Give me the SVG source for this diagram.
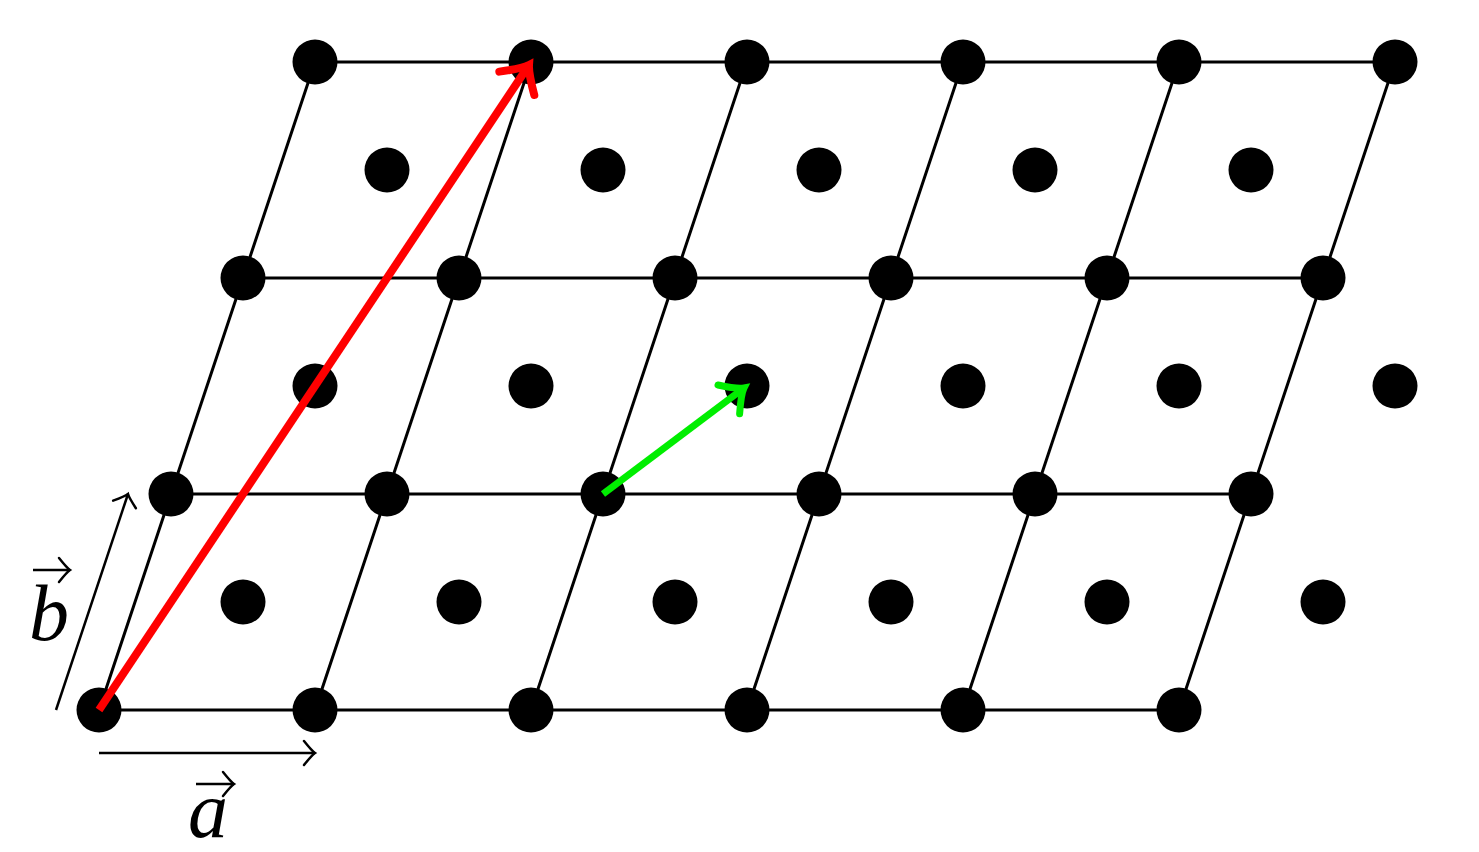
<svg xmlns="http://www.w3.org/2000/svg" width="1479" height="852" viewBox="0 0 1479 852">
<style>
.ln{stroke:#000;stroke-width:3;fill:none}
.dot{fill:#000}
.lbl{font-family:"Liberation Serif","DejaVu Serif",serif;font-style:italic;font-size:80px;fill:#000}
</style>
<defs>
<marker id="hk" markerUnits="userSpaceOnUse" orient="auto" refX="0" refY="0" markerWidth="40" markerHeight="40" viewBox="-20 -20 40 40" overflow="visible">
<path d="M -11,-12 Q -3,-2 0,0 Q -3,2 -11,12" stroke="#000" stroke-width="2.5" fill="none" stroke-linecap="round"/>
</marker>
<marker id="hr" markerUnits="userSpaceOnUse" orient="auto" refX="0" refY="0" markerWidth="80" markerHeight="80" viewBox="-40 -40 80 80" overflow="visible">
<path d="M -22,-21 Q -7,-4 0,0 Q -7,4 -22,21" stroke="#ff0000" stroke-width="8" fill="none" stroke-linecap="round"/>
</marker>
<marker id="hg" markerUnits="userSpaceOnUse" orient="auto" refX="0" refY="0" markerWidth="80" markerHeight="80" viewBox="-40 -40 80 80" overflow="visible">
<path d="M -19,-18 Q -6,-3 0,0 Q -6,3 -19,18" stroke="#00ee00" stroke-width="7" fill="none" stroke-linecap="round"/>
</marker>
</defs>
<rect width="1479" height="852" fill="#fff"/>
<g id="connectors">
<line class="ln" x1="99" y1="710" x2="1179" y2="710"/>
<line class="ln" x1="171" y1="494" x2="1251" y2="494"/>
<line class="ln" x1="243" y1="278" x2="1323" y2="278"/>
<line class="ln" x1="315" y1="62" x2="1395" y2="62"/>
<line class="ln" x1="99" y1="710" x2="315" y2="62"/>
<line class="ln" x1="315" y1="710" x2="531" y2="62"/>
<line class="ln" x1="531" y1="710" x2="747" y2="62"/>
<line class="ln" x1="747" y1="710" x2="963" y2="62"/>
<line class="ln" x1="963" y1="710" x2="1179" y2="62"/>
<line class="ln" x1="1179" y1="710" x2="1395" y2="62"/>
</g>
<g id="lattice-points">
<circle class="dot" cx="99" cy="710" r="22.5"/><circle class="dot" cx="315" cy="710" r="22.5"/><circle class="dot" cx="531" cy="710" r="22.5"/><circle class="dot" cx="747" cy="710" r="22.5"/><circle class="dot" cx="963" cy="710" r="22.5"/><circle class="dot" cx="1179" cy="710" r="22.5"/>
<circle class="dot" cx="171" cy="494" r="22.5"/><circle class="dot" cx="387" cy="494" r="22.5"/><circle class="dot" cx="603" cy="494" r="22.5"/><circle class="dot" cx="819" cy="494" r="22.5"/><circle class="dot" cx="1035" cy="494" r="22.5"/><circle class="dot" cx="1251" cy="494" r="22.5"/>
<circle class="dot" cx="243" cy="278" r="22.5"/><circle class="dot" cx="459" cy="278" r="22.5"/><circle class="dot" cx="675" cy="278" r="22.5"/><circle class="dot" cx="891" cy="278" r="22.5"/><circle class="dot" cx="1107" cy="278" r="22.5"/><circle class="dot" cx="1323" cy="278" r="22.5"/>
<circle class="dot" cx="315" cy="62" r="22.5"/><circle class="dot" cx="531" cy="62" r="22.5"/><circle class="dot" cx="747" cy="62" r="22.5"/><circle class="dot" cx="963" cy="62" r="22.5"/><circle class="dot" cx="1179" cy="62" r="22.5"/><circle class="dot" cx="1395" cy="62" r="22.5"/>
</g>
<g id="centered-points">
<circle class="dot" cx="243" cy="602" r="22.5"/><circle class="dot" cx="459" cy="602" r="22.5"/><circle class="dot" cx="675" cy="602" r="22.5"/><circle class="dot" cx="891" cy="602" r="22.5"/><circle class="dot" cx="1107" cy="602" r="22.5"/><circle class="dot" cx="1323" cy="602" r="22.5"/>
<circle class="dot" cx="315" cy="386" r="22.5"/><circle class="dot" cx="531" cy="386" r="22.5"/><circle class="dot" cx="747" cy="386" r="22.5"/><circle class="dot" cx="963" cy="386" r="22.5"/><circle class="dot" cx="1179" cy="386" r="22.5"/><circle class="dot" cx="1395" cy="386" r="22.5"/>
<circle class="dot" cx="387" cy="170" r="22.5"/><circle class="dot" cx="603" cy="170" r="22.5"/><circle class="dot" cx="819" cy="170" r="22.5"/><circle class="dot" cx="1035" cy="170" r="22.5"/><circle class="dot" cx="1251" cy="170" r="22.5"/>
</g>
<g id="red-vector">
<line x1="99" y1="710" x2="529" y2="65" stroke="#ff0000" stroke-width="8" marker-end="url(#hr)"/>
</g>
<g id="green-vector">
<line x1="603" y1="494" x2="744" y2="388" stroke="#00ee00" stroke-width="7" marker-end="url(#hg)"/>
</g>
<g id="basis-a">
<line x1="99" y1="753" x2="315" y2="753" stroke="#000" stroke-width="2.5" marker-end="url(#hk)"/>
<text class="lbl" x="188" y="837">a</text>
<line x1="196" y1="784" x2="234" y2="784" stroke="#000" stroke-width="2.5" marker-end="url(#hk)"/>
</g>
<g id="basis-b">
<line x1="56" y1="710" x2="128" y2="494" stroke="#000" stroke-width="2.5" marker-end="url(#hk)"/>
<text class="lbl" x="29" y="640">b</text>
<line x1="33" y1="570" x2="70" y2="570" stroke="#000" stroke-width="2.5" marker-end="url(#hk)"/>
</g>
</svg>
